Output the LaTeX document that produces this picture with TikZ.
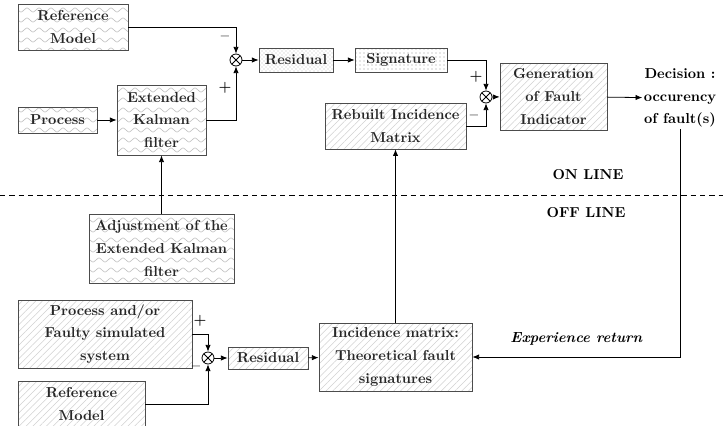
\documentclass[tikz,border=0pt]{standalone}
\usepackage{tikz}
\usetikzlibrary{positioning,calc,patterns,patterns.meta,arrows.meta}

% wavy texture of the model boxes
\pgfdeclarepatternformonly{waves}{\pgfpoint{-1pt}{-1pt}}{\pgfpoint{10pt}{9pt}}{\pgfpoint{9pt}{7.5pt}}{
  \pgfsetlinewidth{0.45pt}
  \pgfpathmoveto{\pgfpoint{0pt}{3.75pt}}
  \pgfpathcurveto{\pgfpoint{2.25pt}{5.8pt}}{\pgfpoint{2.25pt}{5.8pt}}{\pgfpoint{4.5pt}{3.75pt}}
  \pgfpathcurveto{\pgfpoint{6.75pt}{1.7pt}}{\pgfpoint{6.75pt}{1.7pt}}{\pgfpoint{9pt}{3.75pt}}
  \pgfusepath{stroke}}

\begin{document}
\begin{tikzpicture}[x=0.75pt,y=-0.75pt,
    font=\fontsize{10.8}{17}\selectfont\bfseries,
    box/.style={draw=black!70, line width=0.6pt, align=center, inner sep=1pt, text=black!85},
    wavebox/.style={box, pattern=waves, pattern color=black!25},
    linebox/.style={box, pattern={Lines[angle=45,distance=3.6pt,line width=0.4pt]}, pattern color=black!18},
    dotbox/.style={box, pattern=dots, pattern color=black!40},
    blobbox/.style={box, pattern=crosshatch dots, pattern color=black!25},
    summer/.style={draw, circle, line width=0.6pt, minimum size=9pt, inner sep=0pt,
      path picture={\draw (path picture bounding box.north west) -- (path picture bounding box.south east)
        (path picture bounding box.north east) -- (path picture bounding box.south west);}},
    sign/.style={inner sep=0pt, font=\fontsize{11}{11}\selectfont\bfseries},
    wire/.style={line width=0.6pt, -{Latex[length=5pt,width=4pt]}}]
  \useasboundingbox (0,0) rectangle (723,425);

  % Separation on line / off line
  \draw[line width=0.6pt, dash pattern=on 4pt off 3pt] (0,195) -- (723,195);
  \node (online) at (588,175) {ON LINE};
  \node (offline) at (586,213) {OFF LINE};

  % On line part
  \node[wavebox, minimum width=82.5pt, minimum height=34.5pt] (refT) at (73,27) {Reference\\Model};
  \node[wavebox, minimum width=59.25pt, minimum height=19.5pt] (proc) at (57.5,120) {Process};
  \node[wavebox, minimum width=66.75pt, minimum height=52.5pt] (ekf) at (161.5,120) {Extended\\Kalman\\filter};
  \node[summer] (s1) at (236,60) {};
  \node[blobbox, minimum width=55.5pt, minimum height=18pt] (resT) at (296,60) {Residual};
  \node[dotbox, minimum width=69pt, minimum height=18pt] (sig) at (401,60) {Signature};
  \node[summer] (s2) at (486,97) {};
  \node[linebox, minimum width=105.75pt, minimum height=34.5pt] (rebuilt) at (395.5,126) {Rebuilt Incidence\\Matrix};
  \node[linebox, minimum width=80.25pt, minimum height=50.25pt] (gen) at (553.5,96.5) {Generation\\of Fault\\Indicator};
  \node[align=center, inner sep=1pt] (dec) at (680,98) {Decision :\\occurency\\of fault(s)};

  \node[sign] at (225,38) {--};
  \node[sign] at (225,88) {+};
  \node[sign] at (476,77) {+};
  \node[sign] at (474,117) {--};

  \draw[wire] (refT.east) -| (s1.north);
  \draw[wire] (ekf.east) -| (s1.south);
  \draw[wire] (proc) -- (ekf);
  \draw[wire] (s1) -- (resT);
  \draw[wire] (resT) -- (sig);
  \draw[wire] (sig.east) -| (s2.north);
  \draw[wire] (rebuilt.east) -| (s2.south);
  \draw[wire] (s2) -- (gen);
  \draw[wire] (gen) -- (dec);

  % Off line part
  \node[wavebox, minimum width=108.75pt, minimum height=51.75pt] (adj) at (161.5,248.5) {Adjustment of the\\Extended Kalman\\filter};
  \node[linebox, minimum width=130.5pt, minimum height=51pt] (procB) at (105,334) {Process and/or\\Faulty simulated\\system};
  \node[linebox, minimum width=95.25pt, minimum height=34.5pt] (refB) at (81.5,404) {Reference\\Model};
  \node[summer] (s3) at (208,358) {};
  \node[linebox, minimum width=60pt, minimum height=16.5pt] (resB) at (268,358) {Residual};
  \node[linebox, minimum width=114.75pt, minimum height=51pt] (inc) at (395.5,357) {Incidence matrix:\\Theoretical fault\\signatures};

  \node[sign] at (200,321) {+};
  \node[sign] at (196,368) {--};

  \draw[wire] (adj) -- (ekf);
  \draw[wire] (procB.east) -| (s3.north);
  \draw[wire] (refB.east) -| (s3.south);
  \draw[wire] (s3) -- (resB);
  \draw[wire] (resB) -- (inc);
  \draw[wire] (inc) -- (rebuilt);
  \draw[wire] (dec.south) |- (inc.east)
    node[pos=0.75, above=5pt, font=\fontsize{11}{17}\selectfont\bfseries\itshape] (exp) {Experience return};
\end{tikzpicture}
\end{document}
